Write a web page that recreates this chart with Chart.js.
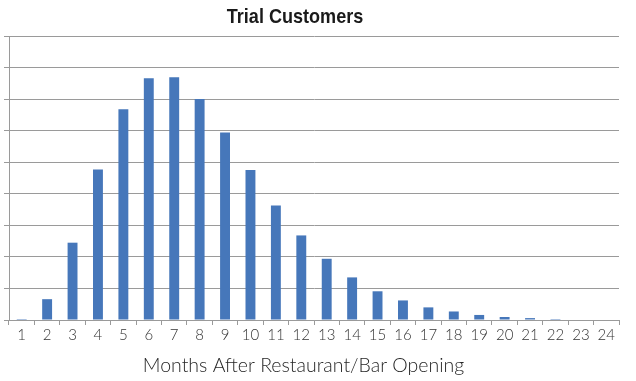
<!DOCTYPE html>
<html>
<head>
<meta charset="utf-8">
<script src="https://cdn.jsdelivr.net/npm/chart.js@4/dist/chart.umd.min.js"></script>
<style>
html,body{margin:0;padding:0;background:#fff;}
#wrap{width:636px;height:381px;position:relative;}
</style>
</head>
<body>
<div id="wrap"><canvas id="c" width="636" height="381"></canvas></div>
<script>
const chartTitle = "Trial Customers";
const xAxisTitle = "Months After Restaurant/Bar Opening";
const months = ["1","2","3","4","5","6","7","8","9","10","11","12","13","14","15","16","17","18","19","20","21","22","23","24"];
const trialCustomers = [30,660,2450,4770,6680,7660,7690,7000,5940,4750,3630,2680,1940,1350,910,620,400,270,160,95,60,30,15,0];
const yMax = 9000;
const yStep = 1000;

const textPlugin = {
  id: 'offsetTexts',
  afterDraw(chart) {
    const ctx = chart.ctx;
    ctx.save();
    ctx.textAlign = 'center';
    ctx.textBaseline = 'alphabetic';
    ctx.fillStyle = '#1a1a1a';
    ctx.font = 'bold 21px "Liberation Sans", Arial, sans-serif';
    ctx.translate(295, 23);
    ctx.scale(0.86, 1);
    ctx.fillText(chartTitle, 0, 0);
    ctx.restore();
    ctx.save();
    ctx.textAlign = 'center';
    ctx.textBaseline = 'alphabetic';
    ctx.fillStyle = '#262626';
    ctx.font = '300 19.5px Lato, "Open Sans", sans-serif';
    ctx.fillText(xAxisTitle, 303.5, 372);
    ctx.restore();
  }
};

new Chart(document.getElementById('c'), {
  type: 'bar',
  data: {
    labels: months,
    datasets: [{
      label: chartTitle,
      data: trialCustomers,
      backgroundColor: '#4677ba',
      borderWidth: 0,
      categoryPercentage: 1.0,
      barPercentage: 0.39
    }]
  },
  options: {
    responsive: false,
    animation: false,
    devicePixelRatio: 1,
    layout: { padding: { left: 4, right: 17, top: 36, bottom: 36 } },
    plugins: {
      legend: { display: false },
      title: { display: false },
      tooltip: { enabled: false }
    },
    scales: {
      x: {
        grid: { display: true, drawOnChartArea: false, drawTicks: true, tickLength: 5, color: '#9a9a9a', offset: true },
        border: { display: true, color: '#9a9a9a', width: 1 },
        ticks: { color: '#333333', font: { family: 'Lato', weight: '300', size: 15 }, padding: 1, maxRotation: 0, autoSkip: false }
      },
      y: {
        min: 0, max: yMax,
        grid: { color: '#9a9a9a', lineWidth: 1, tickLength: 5, drawTicks: true },
        border: { display: true, color: '#9a9a9a', width: 1 },
        ticks: { display: false, stepSize: yStep }
      }
    }
  },
  plugins: [textPlugin]
});
</script>
</body>
</html>
